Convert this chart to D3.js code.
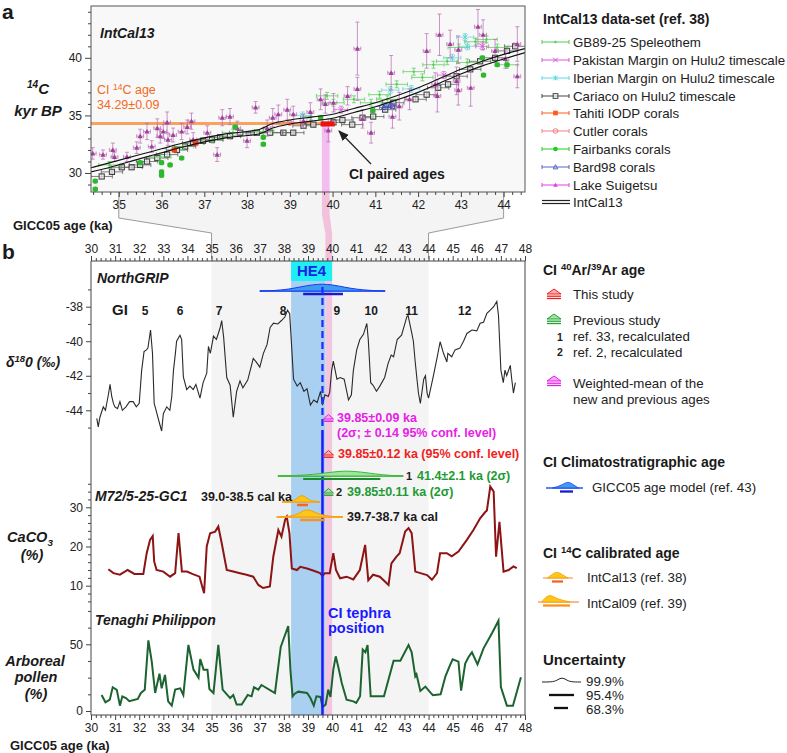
<!DOCTYPE html>
<html><head><meta charset="utf-8">
<script src="https://cdn.jsdelivr.net/npm/d3@7"></script>
<style>
body{margin:0;background:#fff;}
svg{font-family:"Liberation Sans",Arial,sans-serif;}
</style></head><body>
<svg id="c" width="787" height="753"></svg>
<script>
// ================= PANEL a DATA =================
const intcalAge = [34.35,34.8,35.5,36.0,36.5,37.0,37.5,38.0,38.3,38.6,39.0,39.5,40.0,40.5,41.0,41.5,42.0,42.5,43.0,43.5,44.0,44.5];
const intcalHi  = [30.45,30.9,31.6,32.1,32.6,33.05,33.4,33.6,33.8,34.3,34.6,34.85,35.1,35.6,36.1,36.7,37.4,38.2,39.0,39.7,40.3,40.8];
const intcalLo  = [30.1,30.5,31.25,31.75,32.25,32.7,33.05,33.25,33.4,33.9,34.25,34.5,34.75,35.25,35.75,36.35,37.0,37.8,38.6,39.3,39.9,40.45];

// [age (ka), 14C (kyr BP), 14C error]
const suigetsu = [[34.39,31.7,0.5],[34.63,31.6,0.4],[34.86,32.0,0.6],[34.9,31.4,0.4],[35.19,31.4,0.4],[35.42,32.2,0.5],[35.5,33.2,0.6],[35.66,33.6,0.7],[35.77,32.3,0.5],[35.9,33.9,0.8],[35.97,33.2,0.6],[36.04,33.6,0.6],[36.13,34.4,0.9],[36.15,32.9,0.5],[36.27,33.3,0.6],[36.47,33.6,0.7],[36.6,34.0,0.6],[36.7,34.5,0.7],[36.74,32.9,0.6],[37.07,33.5,0.6],[37.3,31.6,0.6],[37.42,34.8,0.7],[37.6,34.9,0.7],[37.77,33.9,0.6],[38.0,32.8,0.6],[38.2,35.7,0.5],[38.47,33.9,0.7],[38.6,34.8,0.8],[38.73,35.1,0.8],[38.94,35.5,0.9],[39.08,35.1,0.7],[39.32,34.5,0.6],[39.48,35.3,0.8],[39.72,36.4,0.9],[39.9,33.7,1.0],[39.83,36.0,0.8],[40.02,36.1,0.8],[40.35,36.7,0.8],[40.58,40.8,2.3],[40.58,37.3,1.0],[40.9,33.5,0.9],[40.7,34.7,0.8],[41.37,38.7,1.5],[41.56,35.8,1.2],[41.4,34.9,1.0],[41.8,36.4,0.9],[42.2,40.6,1.5],[42.5,42.0,1.8],[42.4,37.7,1.0],[42.75,41.2,1.2],[42.94,40.7,1.2],[43.4,42.7,1.5],[43.52,42.0,1.3],[43.23,37.4,1.6],[42.94,37.2,1.3],[43.8,40.6,1.0],[44.04,39.9,0.8],[44.32,41.2,1.5],[44.32,38.4,1.0],[42.45,36.7,1.4],[42.9,38.0,1.2]];
const cariaco = [[34.6,29.7],[34.84,30.1],[35.07,30.5],[35.3,30.5],[35.5,30.7],[35.66,31.0],[35.9,31.3],[36.13,31.6],[36.36,32.0],[36.55,32.3],[36.74,32.6],[36.97,32.8],[37.18,32.9],[37.37,33.1],[37.6,33.2],[37.84,33.5],[38.23,33.5],[38.54,33.5],[38.85,33.5],[39.08,33.5],[39.32,34.1],[39.55,34.2],[40.02,34.4],[40.23,34.6],[40.46,34.2],[40.7,34.8],[40.95,34.9],[41.23,35.5],[41.42,36.1],[41.94,36.4],[42.2,36.8],[42.47,37.4],[42.7,37.7],[42.9,38.4],[43.22,39.0],[43.45,39.7],[43.8,40.0],[44.08,40.6],[44.27,41.0]];
const gb8925 = [[34.78,30.7],[35.97,31.4],[36.5,32.3],[37.2,32.9],[37.67,33.5],[38.38,33.6],[39.5,34.9],[39.87,36.7],[40.02,36.1],[40.5,36.4],[40.9,36.1],[41.1,36.8],[41.28,36.4],[41.5,37.7],[41.9,38.8],[42.1,38.3],[42.36,39.4],[42.68,39.7],[42.95,40.9],[43.15,39.6],[43.34,41.4],[43.6,41.6],[43.85,40.9],[44.08,39.4]];
const iberian = [[39.3,35.0],[41.35,37.2],[41.84,37.3],[42.8,40.0],[43.1,41.8],[43.15,41.0]];
const pakistan = [[40.2,35.5],[42.6,38.5],[43.5,41.0]];
const tahiti = [[36.3,32.0],[36.8,32.6]];
const cutler = [[39.0,34.35]];
const fairbanks = [[34.45,28.6],[34.45,29.3],[35.5,30.9],[36.0,30.9],[36.0,30.1],[36.0,29.8],[36.2,30.7],[36.47,31.3],[37.72,34.0],[38.38,33.1],[38.38,32.5],[39.72,34.8],[40.94,35.4],[43.5,40.0],[43.53,38.5],[43.85,39.4],[44.08,39.4]];
const bard98 = [[41.2,35.7],[41.4,35.8],[41.35,35.9]];
const ciC14Age = 34.29;
const legendANames = ["GB89-25 Speleothem","Pakistan Margin on Hulu2 timescale","Iberian Margin on Hulu2 timescale","Cariaco on Hulu2 timescale","Tahiti IODP corals","Cutler corals","Fairbanks corals","Bard98 corals","Lake Suigetsu","IntCal13"];
const ticksA = [35,36,37,38,39,40,41,42,43,44];

// ================= PANEL b DATA =================
const ngrip = [[30.24,-44.47],[30.3,-44.96],[30.37,-44.4],[30.51,-43.8],[30.6,-44.0],[30.72,-43.1],[30.79,-42.5],[30.86,-43.2],[30.93,-43.6],[30.99,-43.8],[31.1,-43.9],[31.2,-43.5],[31.3,-44.0],[31.45,-43.8],[31.6,-43.5],[31.75,-43.5],[31.88,-43.8],[32.0,-43.6],[32.1,-41.7],[32.2,-40.6],[32.3,-40.5],[32.36,-40.4],[32.47,-39.35],[32.55,-40.7],[32.62,-43.6],[32.7,-44.0],[32.84,-44.75],[32.93,-45.2],[33.0,-44.2],[33.14,-43.8],[33.27,-44.0],[33.35,-43.2],[33.42,-41.7],[33.5,-40.7],[33.55,-40.0],[33.69,-39.65],[33.76,-39.9],[33.83,-42.06],[33.97,-42.8],[34.1,-42.6],[34.24,-42.8],[34.35,-42.5],[34.52,-43.3],[34.65,-42.4],[34.8,-41.85],[34.87,-40.3],[34.95,-40.7],[35.08,-39.7],[35.2,-39.9],[35.35,-39.25],[35.42,-38.8],[35.5,-39.75],[35.63,-42.1],[35.77,-42.55],[35.9,-44.4],[36.04,-42.9],[36.18,-42.3],[36.3,-42.7],[36.5,-42.25],[36.73,-41.0],[36.85,-41.2],[37.0,-41.5],[37.15,-40.7],[37.3,-40.2],[37.43,-39.2],[37.57,-38.95],[37.75,-39.0],[37.9,-38.8],[38.04,-38.6],[38.15,-38.2],[38.24,-38.4],[38.33,-40.5],[38.4,-42.2],[38.55,-42.6],[38.68,-42.4],[38.83,-42.9],[38.96,-42.75],[39.1,-43.7],[39.24,-43.4],[39.38,-43.55],[39.52,-42.9],[39.6,-43.7],[39.7,-43.1],[39.84,-43.2],[39.9,-42.95],[39.98,-41.7],[40.05,-41.15],[40.2,-42.2],[40.33,-42.1],[40.5,-42.2],[40.68,-43.4],[40.8,-43.1],[40.88,-41.7],[41.02,-40.5],[41.15,-39.9],[41.3,-39.6],[41.44,-38.97],[41.5,-39.9],[41.6,-42.4],[41.7,-42.55],[41.84,-42.9],[41.98,-42.6],[42.18,-42.1],[42.32,-41.3],[42.45,-40.8],[42.55,-40.9],[42.7,-39.9],[42.88,-39.65],[43.1,-38.58],[43.15,-38.5],[43.3,-39.5],[43.37,-40.0],[43.44,-41.1],[43.52,-42.2],[43.58,-43.0],[43.66,-43.6],[43.8,-42.2],[43.87,-42.0],[43.94,-43.0],[44.0,-43.3],[44.14,-42.4],[44.2,-42.0],[44.36,-40.9],[44.48,-40.03],[44.62,-40.7],[44.76,-41.2],[44.8,-40.7],[44.96,-40.9],[45.1,-40.5],[45.3,-40.4],[45.45,-40.0],[45.59,-39.55],[45.8,-39.35],[46.0,-39.4],[46.14,-38.96],[46.28,-38.9],[46.42,-38.38],[46.56,-38.2],[46.7,-38.0],[46.83,-37.7],[46.9,-38.5],[47.0,-41.67],[47.1,-42.4],[47.17,-41.67],[47.24,-42.0],[47.39,-41.4],[47.45,-42.2],[47.52,-43.0],[47.6,-42.4]];
const caco3 = [[30.72,14.2],[30.93,13.2],[31.2,12.8],[31.52,14.0],[31.8,13.0],[32.17,13.0],[32.31,18.3],[32.45,21.7],[32.56,22.7],[32.62,16.2],[32.72,14.0],[33.0,13.6],[33.28,12.3],[33.49,13.2],[33.63,23.4],[33.77,13.6],[33.98,13.6],[34.2,13.0],[34.5,12.3],[34.69,8.1],[34.8,20.0],[34.94,23.4],[35.15,23.8],[35.28,25.1],[35.42,20.9],[35.63,14.0],[35.9,13.6],[36.18,13.2],[36.45,12.8],[36.73,12.3],[36.94,10.2],[37.14,9.4],[37.42,9.8],[37.56,17.4],[37.77,24.2],[37.9,22.5],[38.05,26.8],[38.12,27.6],[38.23,23.4],[38.33,14.4],[38.54,14.0],[38.68,14.8],[38.96,14.4],[39.24,13.8],[39.5,13.2],[39.6,12.5],[39.7,13.2],[39.9,13.2],[40.05,18.3],[40.16,14.0],[40.33,11.9],[40.6,12.3],[40.88,11.6],[41.15,14.0],[41.37,20.4],[41.5,11.4],[41.7,12.8],[41.98,12.3],[42.34,10.2],[42.46,15.7],[42.67,17.4],[42.8,18.3],[43.03,23.8],[43.17,24.7],[43.3,23.4],[43.45,13.6],[43.66,13.2],[43.94,12.7],[44.14,11.5],[44.35,13.2],[44.48,18.3],[44.76,18.3],[44.96,17.5],[45.24,18.7],[45.59,21.7],[45.86,24.2],[46.14,27.2],[46.35,28.8],[46.42,29.2],[46.56,35.3],[46.7,34.0],[46.8,17.4],[46.94,26.3],[47.11,13.6],[47.32,14.0],[47.52,14.9],[47.66,14.5]];
const pollen = [[30.44,12],[30.6,6.5],[30.78,8.5],[30.9,17.8],[31.07,15.8],[31.2,4],[31.3,11],[31.45,9.7],[31.59,7.3],[31.94,9],[32.07,13.5],[32.23,16],[32.38,53],[32.52,37],[32.66,13.5],[32.84,28],[32.93,17],[33.07,27],[33.2,7.2],[33.35,4],[33.49,16],[33.7,17],[33.83,12],[34.04,49.5],[34.25,31],[34.46,25],[34.53,39],[34.67,31],[34.83,31],[34.91,16.5],[35.08,13.5],[35.28,49.5],[35.46,16],[35.77,9.7],[35.9,12],[36.04,4.8],[36.25,4.8],[36.5,12],[36.66,11],[36.76,17.8],[36.94,16],[37.07,19.5],[37.63,13.5],[37.87,48],[38.18,63.7],[38.27,31],[38.36,11],[38.45,13],[38.6,14.5],[38.96,13.5],[39.1,9.7],[39.24,4],[39.35,11],[39.52,10.5],[39.6,3],[39.73,4.8],[39.84,16],[39.93,10.5],[40.05,31],[40.15,41],[40.25,33.5],[40.4,21],[40.6,8.5],[40.88,7.2],[41.0,6],[41.16,11],[41.27,46],[41.38,44],[41.47,49.5],[41.6,11],[42.15,11],[42.55,37.7],[42.83,37.7],[43.17,49.5],[43.3,44],[43.45,26],[43.5,27.5],[43.66,15],[43.87,18.3],[44.08,13.8],[44.18,11.8],[44.5,12.5],[44.7,26],[44.9,34.7],[45.0,38.8],[45.24,37],[45.35,15.3],[45.52,35.5],[45.66,40.5],[45.8,44],[46.03,35],[46.28,47],[46.63,58.3],[46.9,67.7],[47.0,18],[47.25,4],[47.5,4],[47.83,25.3]];
const giNames = ["5","6","7","8","9","10","11","12"];
const giAges  = [32.24,33.69,35.31,37.97,40.2,41.62,43.3,45.5];
const he4Range = [38.3,40.0];
const heBlueRange = [38.3,39.72];
const ciPinkRange = [39.72,40.0];
const ciTephraAge = 39.6;
const ciArAge = 39.85;
// probability curves [age, relative density]
const gicc05Pdf = [[37.0,0],[37.6,0.05],[38.2,0.25],[38.7,0.6],[39.2,0.9],[39.6,1],[40.0,0.9],[40.5,0.55],[41.0,0.25],[41.6,0.07],[42.2,0]];
const gicc05Bar = [38.8,40.45];
const prev1Pdf = [[37.75,0],[38.5,0.08],[39.2,0.3],[39.8,0.65],[40.3,0.95],[40.7,1],[41.2,0.8],[41.8,0.4],[42.4,0.1],[42.95,0]];
const prev1Bar = [38.8,42.0];
const ic13Pdf = [[37.93,0],[38.4,0.1],[38.6,0.7],[38.75,1],[38.9,0.7],[39.1,0.15],[39.5,0]];
const ic13Bar = [38.55,39.0];
const ic09Pdf = [[37.7,0],[38.4,0.08],[38.7,0.6],[38.95,1],[39.2,0.7],[39.5,0.3],[39.9,0.08],[40.45,0]];
const ic09Bar = [38.67,39.7];
const ticksB = d3.range(30,49,1);

// ================= SCALES =================
const xA = d3.scaleLinear().domain([34.35,44.5]).range([91,525]);
const yA = d3.scaleLinear().domain([28.35,44.5]).range([192,6]);
const xB = d3.scaleLinear().domain([30,48]).range([91,525]);
const yN = d3.scaleLinear().domain([-44,-38]).range([410.3,306.7]);
const yC = d3.scaleLinear().domain([10,30]).range([585.7,507.3]);
const yP = d3.scaleLinear().domain([0,50]).range([711,644.3]);
const TOPB = 261, BOTB = 715;

const svg = d3.select('#c');

function rich(x,y,parts,o={}){
  const size=o.size||13;
  const t=svg.append('text').attr('x',x).attr('y',y).attr('dy','0.35em')
    .attr('font-size',size).attr('fill',o.color||'#1a1a1a')
    .attr('text-anchor',o.anchor||'start');
  if(o.bold) t.attr('font-weight','bold');
  if(o.italic) t.attr('font-style','italic');
  if(typeof parts==='string') parts=[{t:parts}];
  let shift=0;
  parts.forEach(p=>{
    const s=t.append('tspan').text(p.t);
    let target=0;
    if(p.sup) {target=-0.38*size; s.attr('font-size',size*0.68);}
    if(p.sub) {target=0.25*size; s.attr('font-size',size*0.68);}
    if(target!==shift){ s.attr('dy',target-shift); shift=target; }
  });
  return t;
}

// ================= BACKGROUNDS =================
svg.append('rect').attr('x',91).attr('y',6).attr('width',434).attr('height',186).attr('fill','#f8f8f8');
svg.append('polygon').attr('fill','#f4f4f4').attr('points',[
  [xA(35),192],[xA(44),192],[xA(44),218],[xB(44),233],[xB(44),BOTB],[xB(35),BOTB],[xB(35),233],[xA(35),218]
].map(p=>p.join(',')).join(' '));
svg.append('polygon').attr('fill','#f2c2dc').attr('points',[
  [xA(39.75),192],[xA(39.93),192],[xA(39.93),214],[xB(ciPinkRange[1]),234],[xB(ciPinkRange[1]),TOPB],[xB(ciPinkRange[0]),TOPB],[xB(ciPinkRange[0]),234],[xA(39.75),214]
].map(p=>p.join(',')).join(' '));
svg.append('rect').attr('x',xA(39.75)).attr('y',yA(34.2)).attr('width',xA(39.93)-xA(39.75)).attr('height',192-yA(34.2)).attr('fill','#f4bdf0');
[[35,35],[44,44]].forEach(([a,b])=>{
  svg.append('polyline').attr('fill','none').attr('stroke','#9a9a9a').attr('stroke-width',1)
   .attr('points',[[xA(a),192],[xA(a),218],[xB(b),233],[xB(b),TOPB-2]].map(p=>p.join(',')).join(' '));
});
svg.append('rect').attr('x',xB(heBlueRange[0])).attr('y',TOPB).attr('width',xB(heBlueRange[1])-xB(heBlueRange[0])).attr('height',BOTB-TOPB).attr('fill','#a9cff1');
svg.append('rect').attr('x',xB(ciPinkRange[0])).attr('y',TOPB).attr('width',xB(ciPinkRange[1])-xB(ciPinkRange[0])).attr('height',BOTB-TOPB).attr('fill','#f3c6df');

// ================= PANEL a =================
const clipA = svg.append('clipPath').attr('id','clipA');
clipA.append('rect').attr('x',91).attr('y',6).attr('width',434).attr('height',186);
const gA = svg.append('g').attr('clip-path','url(#clipA)');

gA.append('line').attr('x1',xA(34.35)).attr('x2',xA(39.75)).attr('y1',yA(ciC14Age)).attr('y2',yA(ciC14Age))
  .attr('stroke','#f7a25e').attr('stroke-width',3);

function marker(g,type,x,y,color,s=1){
  const r=2.6*s;
  if(type==='sqOpen') g.append('rect').attr('x',x-r).attr('y',y-r).attr('width',2*r).attr('height',2*r).attr('fill','#fff').attr('fill-opacity',0.6).attr('stroke',color).attr('stroke-width',1);
  else if(type==='sqFill') g.append('rect').attr('x',x-r).attr('y',y-r).attr('width',2*r).attr('height',2*r).attr('fill',color);
  else if(type==='circFill') g.append('circle').attr('cx',x).attr('cy',y).attr('r',r).attr('fill',color);
  else if(type==='circOpen') g.append('circle').attr('cx',x).attr('cy',y).attr('r',r).attr('fill','none').attr('stroke',color);
  else if(type==='triFill') g.append('path').attr('d',`M${x},${y-r}L${x+r},${y+r*0.8}L${x-r},${y+r*0.8}Z`).attr('fill',color);
  else if(type==='triOpen') g.append('path').attr('d',`M${x},${y-r}L${x+r},${y+r*0.8}L${x-r},${y+r*0.8}Z`).attr('fill','none').attr('stroke',color);
  else if(type==='cross') g.append('path').attr('d',`M${x-r},${y-r}L${x+r},${y+r}M${x-r},${y+r}L${x+r},${y-r}`).attr('stroke',color).attr('stroke-width',1);
  else if(type==='star') g.append('path').attr('d',`M${x-r},${y-r}L${x+r},${y+r}M${x-r},${y+r}L${x+r},${y-r}M${x},${y-r}L${x},${y+r}`).attr('stroke',color).attr('stroke-width',1);
  else if(type==='dot') g.append('circle').attr('cx',x).attr('cy',y).attr('r',1.2).attr('fill',color);
}
function errPts(data,color,type,xe,ye,barColor){
  const g=gA.append('g');
  data.forEach(d=>{
    const x=xA(d[0]), y=yA(d[1]), e=(d[2]!==undefined?d[2]:ye);
    const x0=xA(d[0]-xe), x1=xA(d[0]+xe), y0=yA(d[1]-e), y1=yA(d[1]+e);
    const c=barColor||color;
    g.append('path').attr('fill','none').attr('stroke',c).attr('stroke-width',1).attr('stroke-opacity',0.75)
     .attr('d',`M${x0},${y}H${x1}M${x0},${y-2}V${y+2}M${x1},${y-2}V${y+2}M${x},${y0}V${y1}M${x-2},${y0}H${x+2}M${x-2},${y1}H${x+2}`);
    marker(g,type,x,y,color);
  });
}
errPts(cariaco,'#3a3a3a','sqOpen',0.25,0.15,'#555');
errPts(gb8925,'#55cc55','dot',0.25,0.3);
errPts(iberian,'#6ad0dc','star',0.2,0.3);
errPts(bard98,'#3a4fb0','triOpen',0.1,0.2);
errPts(suigetsu,'#a0409a','triFill',0.08,0.5,'#bb70b5');
errPts(pakistan,'#d060d0','cross',0.15,0.3);
errPts(tahiti,'#ee4411','sqFill',0.05,0.1);
errPts(cutler,'#ee7777','circOpen',0.3,0.1);
errPts(fairbanks,'#2db82d','circFill',0.05,0.15);

const lineA = d3.line().x(d=>xA(d[0])).y(d=>yA(d[1])).curve(d3.curveMonotoneX);
gA.append('path').attr('d',lineA(intcalAge.map((a,i)=>[a,intcalHi[i]]))).attr('fill','none').attr('stroke','#111').attr('stroke-width',1.1);
gA.append('path').attr('d',lineA(intcalAge.map((a,i)=>[a,intcalLo[i]]))).attr('fill','none').attr('stroke','#111').attr('stroke-width',1.1);

svg.append('rect').attr('x',xA(39.72)).attr('y',yA(34.48)).attr('width',xA(40.05)-xA(39.72)).attr('height',yA(34.04)-yA(34.48)).attr('fill','#f01010');
svg.append('defs').append('marker').attr('id','arr').attr('viewBox','0 0 10 10').attr('refX',9).attr('refY',5)
  .attr('markerWidth',9).attr('markerHeight',9).attr('orient','auto')
  .append('path').attr('d','M0,1L10,5L0,9Z').attr('fill','#222');
svg.append('line').attr('x1',371).attr('y1',164).attr('x2',339).attr('y2',131).attr('stroke','#222').attr('stroke-width',1.2).attr('marker-end','url(#arr)');
rich(349,174,'CI paired ages',{bold:true,size:14});

svg.append('rect').attr('x',91).attr('y',6).attr('width',434).attr('height',186).attr('fill','none').attr('stroke','#555').attr('stroke-width',1);

function styleAxis(g){ g.selectAll('.domain').remove(); g.selectAll('line').attr('stroke','#444'); g.selectAll('text').attr('font-size',12).attr('fill','#222').attr('font-family','"Liberation Sans",Arial,sans-serif'); }
svg.append('g').attr('transform','translate(0,192)').call(d3.axisBottom(xA).tickValues(ticksA).tickSize(5).tickPadding(3).tickFormat(d3.format('d'))).call(styleAxis);
svg.append('g').attr('transform','translate(0,192)').call(d3.axisBottom(xA).tickValues(d3.range(34.4,44.5,0.2).filter(v=>Math.abs(v-Math.round(v))>0.01)).tickSize(3).tickFormat('')).call(styleAxis);
svg.append('g').attr('transform','translate(91,0)').call(d3.axisLeft(yA).tickValues([30,35,40]).tickSize(6).tickPadding(3)).call(styleAxis);
svg.append('g').attr('transform','translate(91,0)').call(d3.axisLeft(yA).tickValues(d3.range(29,45,1).filter(v=>v%5!==0)).tickSize(3).tickFormat('')).call(styleAxis);

rich(2,12,'a',{bold:true,size:21});
rich(100,33,'IntCal13',{bold:true,italic:true,size:14});
rich(38,94,[{t:'14',sup:true},{t:'C'}],{bold:true,italic:true,size:15,anchor:'middle'});
rich(38,111,'kyr BP',{bold:true,italic:true,size:15,anchor:'middle'});
rich(97,90,[{t:'CI '},{t:'14',sup:true},{t:'C age'}],{size:12.5,color:'#f26a1b'});
rich(97,105,'34.29±0.09',{size:12.5,color:'#f26a1b'});
rich(13,225,'GICC05 age (ka)',{bold:true,size:13});

const legA = [
  {c:'#55cc55',m:'dot'},{c:'#dd55dd',m:'cross'},{c:'#5cd6e6',m:'star'},{c:'#444',m:'sqOpen'},
  {c:'#ff5a1e',m:'sqFill'},{c:'#f08080',m:'circOpen'},{c:'#22cc22',m:'circFill'},{c:'#5565cc',m:'triOpen'},{c:'#e040e0',m:'triFill'},{c:'#111',m:'double'}
];
rich(543,19,'IntCal13 data-set (ref. 38)',{bold:true,size:14});
const legYs=[42,60,78,96,113,131,149,167,185,202];
legA.forEach((L,i)=>{
  const y=legYs[i];
  const g=svg.append('g');
  if(L.m==='double'){
    g.append('line').attr('x1',542).attr('x2',570).attr('y1',y-1.5).attr('y2',y-1.5).attr('stroke','#222').attr('stroke-width',1.2);
    g.append('line').attr('x1',542).attr('x2',570).attr('y1',y+1.5).attr('y2',y+1.5).attr('stroke','#222').attr('stroke-width',1.2);
  } else {
    g.append('path').attr('d',`M542,${y}H569M542,${y-2}V${y+2}M569,${y-2}V${y+2}`).attr('stroke',L.c).attr('stroke-width',1).attr('fill','none');
    marker(g,L.m,555.5,y,L.c,0.9);
  }
  rich(573,y,legendANames[i],{size:13.3,color:'#222'});
});

// ================= PANEL b =================
svg.append('rect').attr('x',xB(he4Range[0])).attr('y',TOPB).attr('width',xB(he4Range[1])-xB(he4Range[0])).attr('height',20).attr('fill','#1eeef6');
rich((xB(he4Range[0])+xB(he4Range[1]))/2,271,'HE4',{bold:true,size:15,color:'#1a22e6',anchor:'middle'});

const lN = d3.line().x(d=>xB(d[0])).y(d=>yN(d[1]));
svg.append('path').attr('d',lN(ngrip)).attr('fill','none').attr('stroke','#2a2a2a').attr('stroke-width',1.1);
const lC = d3.line().x(d=>xB(d[0])).y(d=>yC(d[1]));
svg.append('path').attr('d',lC(caco3)).attr('fill','none').attr('stroke','#8c1414').attr('stroke-width',2);
const lP = d3.line().x(d=>xB(d[0])).y(d=>yP(d[1]));
svg.append('path').attr('d',lP(pollen)).attr('fill','none').attr('stroke','#1c6330').attr('stroke-width',2);

function pdf(data,baseY,h,fill,stroke,lineColor,range,bar,barY,barColor,barW){
  const ar=d3.area().x(d=>xB(d[0])).y0(baseY).y1(d=>baseY-d[1]*h).curve(d3.curveBasis);
  svg.append('line').attr('x1',xB(range[0])).attr('x2',xB(range[1])).attr('y1',baseY).attr('y2',baseY).attr('stroke',lineColor).attr('stroke-width',1.3);
  svg.append('path').attr('d',ar(data)).attr('fill',fill).attr('stroke',stroke).attr('stroke-width',1);
  svg.append('line').attr('x1',xB(bar[0])).attr('x2',xB(bar[1])).attr('y1',barY).attr('y2',barY).attr('stroke',barColor).attr('stroke-width',barW);
}
pdf(gicc05Pdf,291,7,'#3d9cf0','#1a3cf0','#2255ff',[37.0,42.2],gicc05Bar,294,'#1a1ad0',2.5);
svg.append('line').attr('x1',xB(ciTephraAge)).attr('x2',xB(ciTephraAge)).attr('y1',287).attr('y2',430).attr('stroke','#1a30ff').attr('stroke-width',2.3).attr('stroke-dasharray','7,4');
svg.append('line').attr('x1',xB(ciTephraAge)).attr('x2',xB(ciTephraAge)).attr('y1',430).attr('y2',BOTB).attr('stroke','#1a1aff').attr('stroke-width',2.5);
pdf(prev1Pdf,476,5,'#9ee69e','#3cb83c','#2cb52c',[37.75,42.95],prev1Bar,479,'#1a8a2a',2);
pdf(ic13Pdf,502,7,'#ffc61a','#f5a000','#f7a35c',[37.93,39.5],ic13Bar,505,'#f26522',2.5);
pdf(ic09Pdf,517,8,'#ffc61a','#f5a000','#f7a35c',[37.7,40.45],ic09Bar,520,'#f7941d',2.5);

function arMark(x,y,stroke,fill,s=1){
  const w=5*s,h=4.5*s;
  svg.append('path').attr('d',`M${x-w},${y+1}L${x+w},${y+1}L${x},${y+1-h}Z`).attr('fill',fill).attr('stroke',stroke).attr('stroke-width',1);
  svg.append('line').attr('x1',x-w).attr('x2',x+w).attr('y1',y+3.2*s).attr('y2',y+3.2*s).attr('stroke',stroke).attr('stroke-width',1.4);
}
arMark(xB(ciArAge),418,'#e01ee0','#f7a8f7');
arMark(xB(ciArAge),454,'#f01e1e','#ffb0b0');
arMark(xB(ciArAge),492,'#22a035','#9ee69e');

const MAG='#e61ee6', RED='#f01e1e', GRN='#1f9a35';
rich(337,418,'39.85±0.09 ka',{bold:true,size:12.5,color:MAG});
rich(337,433,[{t:'(2σ; ± 0.14 95% conf. level)'}],{bold:true,size:12.5,color:MAG});
rich(338,454,'39.85±0.12 ka (95% conf. level)',{bold:true,size:12.5,color:RED});
rich(406,476,'1',{bold:true,size:11,color:'#222'});
rich(417,476,'41.4±2.1 ka (2σ)',{bold:true,size:12.5,color:GRN});
rich(336,492,'2',{bold:true,size:11,color:'#222'});
rich(347,492,'39.85±0.11 ka (2σ)',{bold:true,size:12.5,color:GRN});
rich(292,497,'39.0-38.5 cal ka',{bold:true,size:12.5,anchor:'end'});
rich(347,517,'39.7-38.7 ka cal',{bold:true,size:12.5});

rich(112,310,'GI',{bold:true,size:15});
giNames.forEach((n,i)=>rich(xB(giAges[i]),311,n,{bold:true,size:12,anchor:'middle'}));

svg.append('line').attr('x1',91).attr('x2',91).attr('y1',TOPB).attr('y2',BOTB).attr('stroke','#444');
svg.append('line').attr('x1',525).attr('x2',525).attr('y1',TOPB).attr('y2',BOTB).attr('stroke','#444');
svg.append('line').attr('x1',91).attr('x2',525).attr('y1',TOPB).attr('y2',TOPB).attr('stroke','#444');
svg.append('line').attr('x1',91).attr('x2',525).attr('y1',BOTB).attr('y2',BOTB).attr('stroke','#444');
const minorB = d3.range(30,48.01,0.2).filter(v=>Math.abs(v-Math.round(v))>0.01);
svg.append('g').attr('transform',`translate(0,${TOPB})`).call(d3.axisTop(xB).tickValues(ticksB).tickSize(5).tickPadding(3).tickFormat(d3.format('d'))).call(styleAxis);
svg.append('g').attr('transform',`translate(0,${TOPB})`).call(d3.axisTop(xB).tickValues(minorB).tickSize(3).tickFormat('')).call(styleAxis);
svg.append('g').attr('transform',`translate(0,${BOTB})`).call(d3.axisBottom(xB).tickValues(ticksB).tickSize(5).tickPadding(3).tickFormat(d3.format('d'))).call(styleAxis);
svg.append('g').attr('transform',`translate(0,${BOTB})`).call(d3.axisBottom(xB).tickValues(minorB).tickSize(3).tickFormat('')).call(styleAxis);
svg.append('g').attr('transform','translate(91,0)').call(d3.axisLeft(yN).tickValues([-38,-40,-42,-44]).tickSize(5).tickPadding(3).tickFormat(d=>String(d))).call(styleAxis);
svg.append('g').attr('transform','translate(91,0)').call(d3.axisLeft(yN).tickValues([-37,-39,-41,-43,-45]).tickSize(3).tickFormat('')).call(styleAxis);
svg.append('g').attr('transform','translate(91,0)').call(d3.axisLeft(yC).tickValues([10,20,30]).tickSize(5).tickPadding(3)).call(styleAxis);
svg.append('g').attr('transform','translate(91,0)').call(d3.axisLeft(yC).tickValues(d3.range(6,37,2).filter(v=>v%10!==0)).tickSize(3).tickFormat('')).call(styleAxis);
svg.append('g').attr('transform','translate(91,0)').call(d3.axisLeft(yP).tickValues([0,50]).tickSize(5).tickPadding(3)).call(styleAxis);
svg.append('g').attr('transform','translate(91,0)').call(d3.axisLeft(yP).tickValues([12.5,25,37.5,62.5,75]).tickSize(3).tickFormat('')).call(styleAxis);

rich(2,252,'b',{bold:true,size:21});
rich(97,278,'NorthGRIP',{bold:true,italic:true,size:14});
rich(33,362,[{t:'δ'},{t:'18',sup:true},{t:'0 (‰)'}],{bold:true,italic:true,size:14,anchor:'middle'});
rich(95,496,'M72/5-25-GC1',{bold:true,italic:true,size:14});
rich(30,537,[{t:'CaCO'},{t:'3',sub:true}],{bold:true,italic:true,size:14.5,anchor:'middle'});
rich(32,555,'(%)',{bold:true,italic:true,size:14.5,anchor:'middle'});
rich(95,620,'Tenaghi Philippon',{bold:true,italic:true,size:14});
rich(35,661,'Arboreal',{bold:true,italic:true,size:14.5,anchor:'middle'});
rich(36,677,'pollen',{bold:true,italic:true,size:14.5,anchor:'middle'});
rich(36,694,'(%)',{bold:true,italic:true,size:14.5,anchor:'middle'});
rich(328,613,'CI tephra',{bold:true,size:14.5,color:'#1a1aff'});
rich(328,628,'position',{bold:true,size:14.5,color:'#1a1aff'});
rich(10,745,'GICC05 age (ka)',{bold:true,size:13});

rich(543,270,[{t:'CI '},{t:'40',sup:true},{t:'Ar/'},{t:'39',sup:true},{t:'Ar age'}],{bold:true,size:14});
function legAr(x,y,stroke,fill){
  svg.append('path').attr('d',`M${x-7},${y}L${x+7},${y}L${x},${y-5}Z`).attr('fill',fill).attr('stroke',stroke).attr('stroke-width',1);
  svg.append('line').attr('x1',x-7).attr('x2',x+7).attr('y1',y+2.2).attr('y2',y+2.2).attr('stroke',stroke).attr('stroke-width',1.3);
  svg.append('line').attr('x1',x-7).attr('x2',x+7).attr('y1',y+4.5).attr('y2',y+4.5).attr('stroke',stroke).attr('stroke-width',1.3);
}
legAr(554,294,'#f01e1e','#ffb0b0');
rich(573,294,'This study',{size:13.3,color:'#222'});
legAr(554,319,'#22a035','#9ee69e');
rich(573,320,'Previous study',{size:13.3,color:'#222'});
rich(560,337,'1',{bold:true,size:10.5,color:'#222',anchor:'middle'});
rich(573,336,'ref. 33, recalculated',{size:13.3,color:'#222'});
rich(560,352,'2',{bold:true,size:10.5,color:'#222',anchor:'middle'});
rich(573,352,'ref. 2, recalculated',{size:13.3,color:'#222'});
legAr(554,381,'#e01ee0','#f7a8f7');
rich(573,383,'Weighted-mean of the',{size:13.3,color:'#222'});
rich(573,399,'new and previous ages',{size:13.3,color:'#222'});

rich(543,462,'CI Climatostratigraphic age',{bold:true,size:14});
function legPdf(x0,x1,y,px,h,fill,stroke,lineC,b0,b1,barC){
  svg.append('line').attr('x1',x0).attr('x2',x1).attr('y1',y).attr('y2',y).attr('stroke',lineC).attr('stroke-width',1.3);
  const pts=[[x0+(px-x0)*0.3,y],[px-6,y-h*0.4],[px,y-h],[px+6,y-h*0.4],[x1-(x1-px)*0.3,y]];
  svg.append('path').attr('d',d3.line().curve(d3.curveBasis)(pts)+'Z').attr('fill',fill).attr('stroke',stroke).attr('stroke-width',0.8);
  svg.append('line').attr('x1',b0).attr('x2',b1).attr('y1',y+3.5).attr('y2',y+3.5).attr('stroke',barC).attr('stroke-width',2.3);
}
legPdf(546,583,488,568,7,'#3d9cf0','#1a3cf0','#2255ff',560,573,'#1a1ad0');
rich(592,487,'GICC05 age model (ref. 43)',{size:13.3,color:'#222'});
rich(543,553,[{t:'CI '},{t:'14',sup:true},{t:'C calibrated age'}],{bold:true,size:14});
legPdf(543,573,578,557,7,'#ffc61a','#f5a000','#f7a35c',552,563,'#f26522');
rich(587,577,'IntCal13 (ref. 38)',{size:13.3,color:'#222'});
legPdf(538,579,602,550,8,'#ffc61a','#f5a000','#f7a35c',543,570,'#f7941d');
rich(587,603,'IntCal09 (ref. 39)',{size:13.3,color:'#222'});

rich(543,660,'Uncertainty',{bold:true,size:15});
svg.append('path').attr('d',d3.line().curve(d3.curveBasis)([[542,682],[554,682],[558,679.5],[562,677.5],[566,679.5],[570,682],[581,682]])).attr('fill','none').attr('stroke','#222').attr('stroke-width',1);
rich(586,681,'99.9%',{size:13.3,color:'#222'});
svg.append('line').attr('x1',549).attr('x2',574).attr('y1',695).attr('y2',695).attr('stroke','#111').attr('stroke-width',2.3);
rich(586,695,'95.4%',{size:13.3,color:'#222'});
svg.append('line').attr('x1',554).attr('x2',568).attr('y1',708).attr('y2',708).attr('stroke','#111').attr('stroke-width',2.3);
rich(586,709,'68.3%',{size:13.3,color:'#222'});
</script>
</body></html>
